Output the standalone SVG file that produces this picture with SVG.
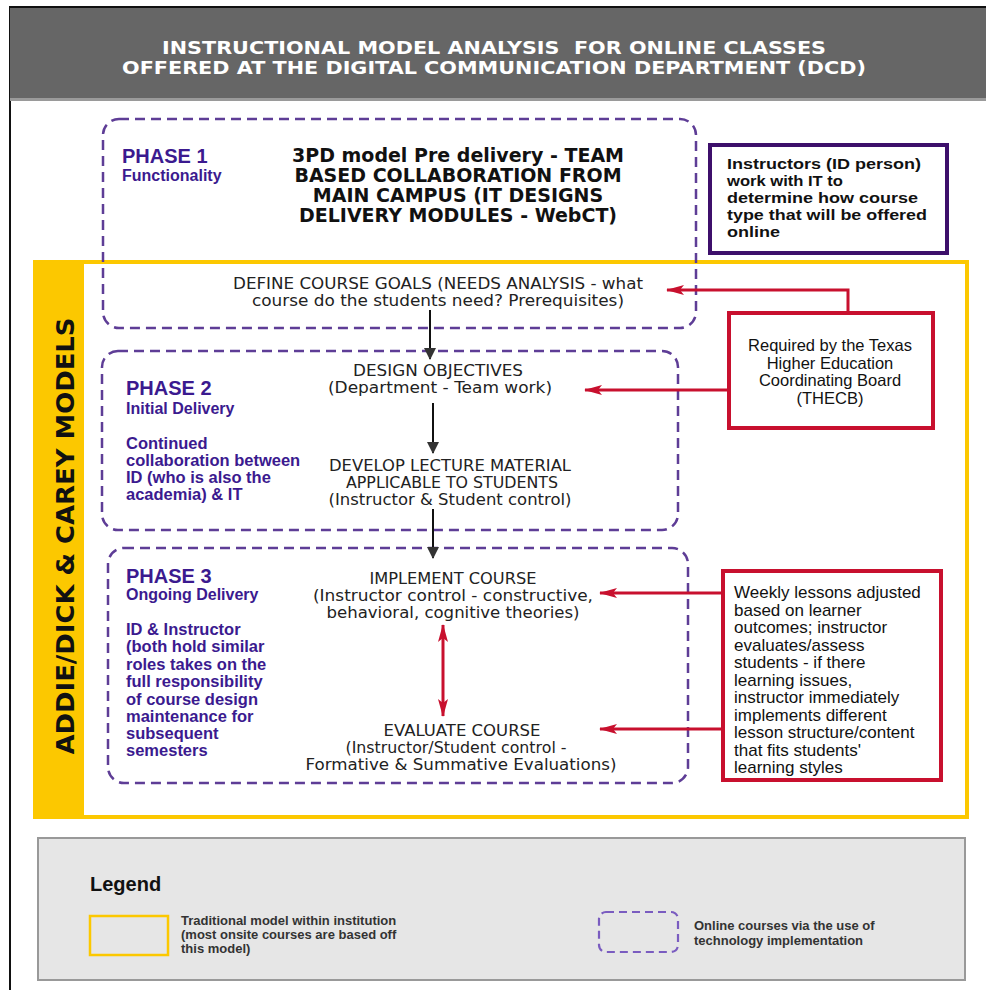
<svg xmlns="http://www.w3.org/2000/svg" width="986" height="990" viewBox="0 0 986 990">
<style>
.ph{fill:none;stroke:#5e3d96;stroke-width:2.5;stroke-dasharray:10 6}
.body{font-family:"DejaVu Sans",Verdana,sans-serif;font-size:15px;fill:#222;text-anchor:middle}
.pt{font-family:"Liberation Sans",Arial,sans-serif;font-weight:bold;fill:#3b1a8f}
.ar{font-family:"Liberation Sans",Arial,sans-serif;font-size:17px;fill:#111}
.tb{font-family:"Liberation Sans",Arial,sans-serif;font-size:16.5px;fill:#111;text-anchor:middle}
.ib{font-family:"Liberation Sans",Arial,sans-serif;font-size:15px;font-weight:bold;fill:#111}
.red{fill:none;stroke:#c8102e;stroke-width:3}
.blk{fill:none;stroke:#111;stroke-width:2}
.lg{font-family:"Liberation Sans",Arial,sans-serif;font-weight:bold;font-size:13px;fill:#333}
</style>
<defs>
<marker id="ah" viewBox="0 0 12 12" refX="11" refY="6" markerWidth="12" markerHeight="12" markerUnits="userSpaceOnUse" orient="auto">
<path d="M0,0 L12,6 L0,12 Z" fill="#333"/>
</marker>
<marker id="rh" viewBox="0 0 18 10" refX="17" refY="5" markerWidth="18" markerHeight="10" markerUnits="userSpaceOnUse" orient="auto-start-reverse">
<path d="M0,0 L18,5 L0,10 L4,5 Z" fill="#c8102e"/>
</marker>
</defs>
<rect x="0" y="0" width="986" height="990" fill="#fff"/>
<rect x="10" y="7" width="990" height="990" fill="#fff" stroke="#111" stroke-width="2"/>
<g id="header">
<rect x="10" y="8" width="976" height="91" fill="#666"/>
<rect x="10" y="98" width="976" height="3" fill="#9a9a9a"/>
<text x="494" y="54" font-family="DejaVu Sans,Verdana,sans-serif" font-weight="bold" font-size="18" fill="#fff" text-anchor="middle" textLength="664" lengthAdjust="spacingAndGlyphs" style="white-space:pre">INSTRUCTIONAL MODEL ANALYSIS  FOR ONLINE CLASSES</text>
<text x="494" y="74" font-family="DejaVu Sans,Verdana,sans-serif" font-weight="bold" font-size="18" fill="#fff" text-anchor="middle" textLength="744" lengthAdjust="spacingAndGlyphs">OFFERED AT THE DIGITAL COMMUNICATION DEPARTMENT (DCD)</text>
</g>
<g id="addie">
<rect x="35" y="262" width="932" height="555" fill="none" stroke="#fcc800" stroke-width="4"/>
<rect x="35" y="262" width="49" height="555" fill="#fcc800"/>
<text transform="translate(74,536) rotate(-90)" font-family="DejaVu Sans,Verdana,sans-serif" font-weight="bold" font-size="24" fill="#111" text-anchor="middle" textLength="437" lengthAdjust="spacingAndGlyphs">ADDIE/DICK &amp; CAREY MODELS</text>
</g>
<g id="phase1">
<rect class="ph" x="103" y="119" width="593" height="209" rx="16"/>
<text class="pt" x="122" y="163" font-size="20">PHASE 1</text>
<text class="pt" x="122" y="181" font-size="16">Functionality</text>
<g font-family="DejaVu Sans,Verdana,sans-serif" font-weight="bold" font-size="19" fill="#111" text-anchor="middle">
<text x="458" y="162">3PD model Pre delivery - TEAM</text>
<text x="458" y="182">BASED COLLABORATION FROM</text>
<text x="458" y="202">MAIN CAMPUS (IT DESIGNS</text>
<text x="458" y="222">DELIVERY MODULES - WebCT)</text>
</g>
</g>
<g id="define">
<text class="body" x="438" y="289" textLength="410" lengthAdjust="spacingAndGlyphs">DEFINE COURSE GOALS (NEEDS ANALYSIS - what</text>
<text class="body" x="438" y="306" textLength="372" lengthAdjust="spacingAndGlyphs">course do the students need? Prerequisites)</text>
</g>
<g id="instructors">
<rect x="710" y="145" width="237" height="108" fill="#fff" stroke="#3d0f6b" stroke-width="4"/>
<text class="ib" x="727" y="169" textLength="194" lengthAdjust="spacingAndGlyphs">Instructors (ID person)</text>
<text class="ib" x="727" y="186" textLength="116" lengthAdjust="spacingAndGlyphs">work with IT to</text>
<text class="ib" x="727" y="203" textLength="191" lengthAdjust="spacingAndGlyphs">determine how course</text>
<text class="ib" x="727" y="220" textLength="200" lengthAdjust="spacingAndGlyphs">type that will be offered</text>
<text class="ib" x="727" y="237" textLength="53" lengthAdjust="spacingAndGlyphs">online</text>
</g>
<g id="phase2">
<rect class="ph" x="102" y="351" width="576" height="179" rx="16"/>
<text class="pt" x="126" y="395" font-size="20">PHASE 2</text>
<text class="pt" x="126" y="414" font-size="16">Initial Delivery</text>
<g class="pt" font-size="16.5">
<text x="126" y="449">Continued</text>
<text x="126" y="466">collaboration between</text>
<text x="126" y="483">ID (who is also the</text>
<text x="126" y="500">academia) &amp; IT</text>
</g>
</g>
<g id="design">
<text class="body" x="438" y="376" textLength="170" lengthAdjust="spacingAndGlyphs">DESIGN OBJECTIVES</text>
<text class="body" x="440" y="393" textLength="224" lengthAdjust="spacingAndGlyphs">(Department - Team work)</text>
</g>
<g id="develop">
<text class="body" x="450" y="471" textLength="242" lengthAdjust="spacingAndGlyphs">DEVELOP LECTURE MATERIAL</text>
<text class="body" x="452" y="488" textLength="212" lengthAdjust="spacingAndGlyphs">APPLICABLE TO STUDENTS</text>
<text class="body" x="450" y="505" textLength="243" lengthAdjust="spacingAndGlyphs">(Instructor &amp; Student control)</text>
</g>
<g id="phase3">
<rect class="ph" x="108" y="548" width="580" height="235" rx="16"/>
<text class="pt" x="126" y="583" font-size="20">PHASE 3</text>
<text class="pt" x="126" y="600" font-size="16">Ongoing Delivery</text>
<g class="pt" font-size="16.5">
<text x="126" y="635">ID &amp; Instructor</text>
<text x="126" y="652">(both hold similar</text>
<text x="126" y="670">roles takes on the</text>
<text x="126" y="687">full responsibility</text>
<text x="126" y="705">of course design</text>
<text x="126" y="722">maintenance for</text>
<text x="126" y="739">subsequent</text>
<text x="126" y="756">semesters</text>
</g>
</g>
<g id="implement">
<text class="body" x="453" y="584" textLength="167" lengthAdjust="spacingAndGlyphs">IMPLEMENT COURSE</text>
<text class="body" x="453" y="601" textLength="280" lengthAdjust="spacingAndGlyphs">(Instructor control - constructive,</text>
<text class="body" x="453" y="618" textLength="253" lengthAdjust="spacingAndGlyphs">behavioral, cognitive theories)</text>
</g>
<g id="evaluate">
<text class="body" x="462" y="736" textLength="157" lengthAdjust="spacingAndGlyphs">EVALUATE COURSE</text>
<text class="body" x="456" y="753" textLength="221" lengthAdjust="spacingAndGlyphs">(Instructor/Student control -</text>
<text class="body" x="461" y="770" textLength="311" lengthAdjust="spacingAndGlyphs">Formative &amp; Summative Evaluations)</text>
</g>
<g id="thecb">
<rect x="729" y="313" width="204" height="115" fill="#fff" stroke="#c8102e" stroke-width="4"/>
<text class="tb" x="830" y="351">Required by the Texas</text>
<text class="tb" x="830" y="368.5">Higher Education</text>
<text class="tb" x="830" y="386">Coordinating Board</text>
<text class="tb" x="830" y="403.5">(THECB)</text>
</g>
<g id="weekly">
<rect x="723" y="571" width="218" height="209" fill="#fff" stroke="#c8102e" stroke-width="4"/>
<g class="ar">
<text x="734" y="598">Weekly lessons adjusted</text>
<text x="734" y="615.5">based on learner</text>
<text x="734" y="633">outcomes; instructor</text>
<text x="734" y="650.5">evaluates/assess</text>
<text x="734" y="668">students - if there</text>
<text x="734" y="685.5">learning issues,</text>
<text x="734" y="703">instructor immediately</text>
<text x="734" y="720.5">implements different</text>
<text x="734" y="738">lesson structure/content</text>
<text x="734" y="755.5">that fits students'</text>
<text x="734" y="773">learning styles</text>
</g>
</g>
<g id="connectors">
<line class="blk" x1="430" y1="310" x2="430" y2="359" marker-end="url(#ah)"/>
<line class="blk" x1="433" y1="403" x2="433" y2="453" marker-end="url(#ah)"/>
<line class="blk" x1="433" y1="509" x2="433" y2="558" marker-end="url(#ah)"/>
<polyline class="red" points="848,313 848,290 667,290" marker-end="url(#rh)"/>
<line class="red" x1="729" y1="390" x2="585" y2="390" marker-end="url(#rh)"/>
<line class="red" x1="723" y1="593" x2="600" y2="593" marker-end="url(#rh)"/>
<line class="red" x1="723" y1="729" x2="600" y2="729" marker-end="url(#rh)"/>
<line class="red" x1="443" y1="625" x2="443" y2="716" marker-start="url(#rh)" marker-end="url(#rh)"/>
</g>
<g id="legend">
<rect x="38" y="838" width="927" height="142" fill="#e6e6e6" stroke="#999" stroke-width="2"/>
<text x="90" y="891" font-family="Liberation Sans,Arial,sans-serif" font-weight="bold" font-size="20" fill="#111">Legend</text>
<rect x="90" y="916" width="78" height="39" fill="none" stroke="#fcc800" stroke-width="2.5"/>
<text class="lg" x="181" y="925">Traditional model within institution</text>
<text class="lg" x="181" y="939">(most onsite courses are based off</text>
<text class="lg" x="181" y="953">this model)</text>
<rect x="599" y="912" width="79" height="40" rx="7" fill="none" stroke="#7a5cc0" stroke-width="2.2" stroke-dasharray="8 5"/>
<text class="lg" x="694" y="930">Online courses via the use of</text>
<text class="lg" x="694" y="945">technology implementation</text>
</g>
</svg>
